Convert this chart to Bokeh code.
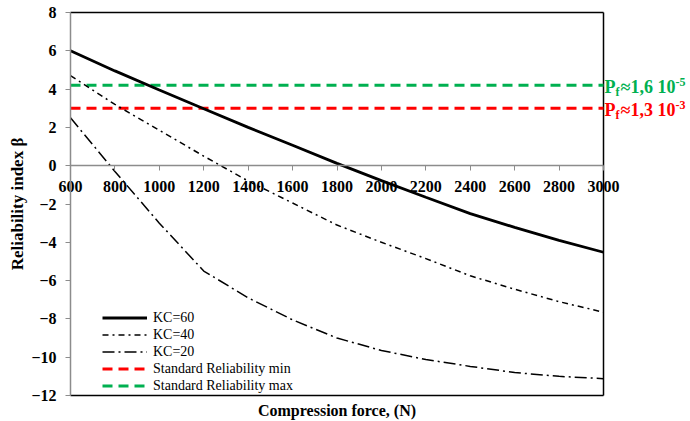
import math
from bokeh.plotting import figure
from bokeh.models import LinearAxis, FixedTicker, Label, Legend, LegendItem, Range1d
from bokeh.embed import file_html
from bokeh.resources import INLINE

# ---- data ----
force = [600, 800, 1000, 1200, 1400, 1600, 1800, 2000, 2200, 2400, 2600, 2800, 3000]
kc60 = [6.0, 4.95, 3.95, 2.97, 2.0, 1.07, 0.12, -0.78, -1.65, -2.5, -3.22, -3.9, -4.52]
kc40 = [4.7, 3.2, 1.85, 0.5, -0.8, -1.95, -3.1, -4.0, -4.85, -5.75, -6.45, -7.1, -7.65]
kc20 = [2.5, -0.3, -3.0, -5.5, -6.9, -8.05, -9.0, -9.65, -10.12, -10.48, -10.8, -11.0, -11.12]
std_min = 3.0
std_max = 4.2
x_ticks = [600, 800, 1000, 1200, 1400, 1600, 1800, 2000, 2200, 2400, 2600, 2800, 3000]
y_ticks = [-12, -10, -8, -6, -4, -2, 0, 2, 4, 6, 8]
series_names = ["KC=60", "KC=40", "KC=20", "Standard Reliability min", "Standard Reliability max"]
x_title = "Compression force, (N)"
y_title = "Reliability index β"

FONT = "'Liberation Serif', serif"
GREEN = "#00b050"
RED = "#ff0000"
GRAY = "#8c8c8c"

# ---- layout (pixels inside the figure) ----
W, H = 690, 421
PL, PR, PT, PB = 70, 603, 12, 395
dx = (x_ticks[-1] - x_ticks[0]) / (PR - PL)
dy = (y_ticks[-1] - y_ticks[0]) / (PB - PT)
x_rng = Range1d(x_ticks[0] - PL * dx, x_ticks[-1] + (W - PR) * dx)
y_rng = Range1d(y_ticks[0] - (H - PB) * dy, y_ticks[-1] + PT * dy)

p = figure(width=W, height=H, output_backend="svg", toolbar_location=None, title=None,
           x_range=x_rng, y_range=y_rng, min_border=0,
           x_axis_type=None, y_axis_type=None)
p.grid.visible = False
p.outline_line_color = None
p.background_fill_color = "white"
p.border_fill_color = "white"

# frame lines (top, right, bottom)
xa, xb = x_ticks[0], x_ticks[-1]
ya, yb = y_ticks[0], y_ticks[-1]
p.segment(x0=[xa, xb, xa], y0=[yb, ya, ya], x1=[xb, xb, xb], y1=[yb, yb, ya],
          line_color="black", line_width=1.5)

# left axis at x = 600
yax = LinearAxis(ticker=FixedTicker(ticks=y_ticks), fixed_location=xa, bounds=(ya, yb))
yax.axis_line_color = GRAY
yax.axis_line_width = 1.5
yax.major_tick_line_color = GRAY
yax.major_tick_out = 5
yax.major_tick_in = 0
yax.minor_tick_line_color = None
yax.major_label_text_font = FONT
yax.major_label_text_font_style = "bold"
yax.major_label_text_font_size = "16px"
yax.major_label_text_color = "black"
yax.major_label_standoff = 9
p.add_layout(yax, "left")

# x axis drawn at beta = 0
xax = LinearAxis(ticker=FixedTicker(ticks=x_ticks), fixed_location=0, bounds=(xa, xb))
xax.axis_line_color = GRAY
xax.axis_line_width = 1.5
xax.major_tick_line_color = GRAY
xax.major_tick_out = 5
xax.major_tick_in = 0
xax.minor_tick_line_color = None
xax.major_label_text_font = FONT
xax.major_label_text_font_style = "bold"
xax.major_label_text_font_size = "16px"
xax.major_label_text_color = "black"
xax.major_label_standoff = 10
p.add_layout(xax, "below")

# axis titles
p.add_layout(Label(x=(xa + xb) / 2, y=ya, y_offset=-15, text=x_title, text_align="center",
                   text_baseline="middle", text_font=FONT, text_font_style="bold",
                   text_font_size="16px", text_color="black"))
p.add_layout(Label(x=xa, y=(ya + yb) / 2, x_offset=-53, angle=math.pi / 2, text=y_title,
                   text_align="center", text_baseline="middle", text_font=FONT,
                   text_font_style="bold", text_font_size="17px", text_color="black"))

# reliability limits
r_min = p.line([xa, xb], [std_min, std_min], line_color=RED, line_width=3, line_dash="10 6")
r_max = p.line([xa, xb], [std_max, std_max], line_color=GREEN, line_width=3, line_dash="10 6")

r60 = p.line(force, kc60, line_color="black", line_width=2.8)
r40 = p.line(force, kc40, line_color="black", line_width=1.5, line_dash="6 4 2 4")
r20 = p.line(force, kc20, line_color="black", line_width=1.5, line_dash="12 4 2 4")

legend = Legend(items=[LegendItem(label=series_names[0], renderers=[r60]),
                       LegendItem(label=series_names[1], renderers=[r40]),
                       LegendItem(label=series_names[2], renderers=[r20]),
                       LegendItem(label=series_names[3], renderers=[r_min]),
                       LegendItem(label=series_names[4], renderers=[r_max])],
                location=(102, 27), padding=0, margin=0, spacing=0,
                glyph_width=45, glyph_height=17, label_height=17, label_standoff=6,
                label_text_font=FONT, label_text_font_size="14px", label_text_color="black",
                border_line_alpha=0, background_fill_alpha=0)
p.add_layout(legend, "center")

# right-hand annotations P_f ≈ ...
def pf_label(yval, color, mid, sup):
    big = "18px"
    p.add_layout(Label(x=xb, y=yval, text="P", x_offset=1, y_offset=-2,
                       text_baseline="middle", text_font=FONT, text_font_style="bold",
                       text_font_size=big, text_color=color))
    p.add_layout(Label(x=xb, y=yval, text="f", x_offset=12, y_offset=-7,
                       text_baseline="middle", text_font=FONT, text_font_style="bold",
                       text_font_size="12px", text_color=color))
    p.add_layout(Label(x=xb, y=yval, text=mid, x_offset=17, y_offset=-2,
                       text_baseline="middle", text_font=FONT, text_font_style="bold",
                       text_font_size=big, text_color=color))
    p.add_layout(Label(x=xb, y=yval, text=sup, x_offset=72, y_offset=3,
                       text_baseline="middle", text_font=FONT, text_font_style="bold",
                       text_font_size="12px", text_color=color))

pf_label(std_max, GREEN, "≈1,6 10", "-5")
pf_label(std_min, RED, "≈1,3 10", "-3")

open("out.html", "w").write(file_html(p, INLINE))
